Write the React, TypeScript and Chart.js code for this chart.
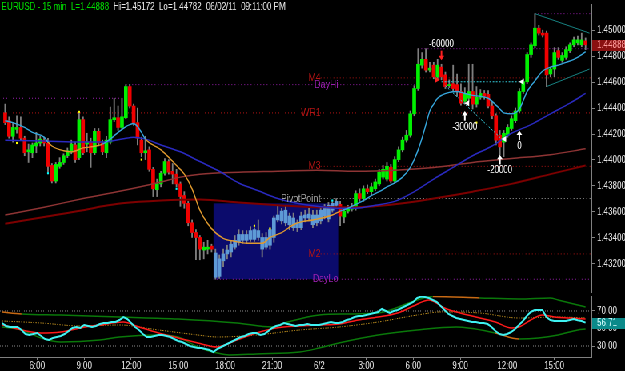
import React, { useEffect, useRef } from 'react';
import { Chart, registerables } from 'chart.js';

Chart.register(...registerables);

const FONT = '"Liberation Sans", Arial, sans-serif';
const FULL_W = 781;
const SCALE_X = 625 / FULL_W;
const MAIN_H = 296;
const OSC_H = 75;
const AXIS_W = 42;
const X_MIN = -0.5;
const X_MAX = 150.5;
const P_MIN = 1.429825;
const P_MAX = 1.452025;
const O_MIN = 17.43;
const O_MAX = 87.14;

// ---- candles (15 min bars, 3:45 6/1 -> 17:00 6/2) ----
const openP = [1.44363,1.44303,1.44183,1.44236,1.44251,1.44168,1.44063,1.44056,1.44108,1.44131,1.44153,1.44131,1.43958,1.43838,1.43951,1.43981,1.44033,1.44063,1.44116,1.44018,1.44311,1.44123,1.44138,1.44056,1.44221,1.44131,1.44056,1.44138,1.44311,1.44326,1.44251,1.44326,1.44566,1.44416,1.44288,1.44153,1.44056,1.44078,1.43928,1.43771,1.43816,1.43898,1.43988,1.43913,1.43891,1.43816,1.43726,1.43666,1.43516,1.43441,1.43403,1.43306,1.43313,1.43336,1.43283,1.43103,1.43223,1.43276,1.43291,1.43328,1.43366,1.43381,1.43426,1.43388,1.43388,1.43456,1.43403,1.43328,1.43343,1.43403,1.43538,1.43531,1.43613,1.43568,1.43553,1.43478,1.43478,1.43553,1.43553,1.43576,1.43516,1.43531,1.43568,1.43546,1.43613,1.43651,1.43658,1.43561,1.43606,1.43621,1.43636,1.43741,1.43703,1.43778,1.43756,1.43778,1.43816,1.43868,1.43853,1.43943,1.43838,1.44003,1.44078,1.44153,1.44191,1.44356,1.44551,1.44731,1.44776,1.44693,1.44731,1.44641,1.44716,1.44656,1.44573,1.44588,1.44581,1.44528,1.44453,1.44476,1.44528,1.44431,1.44483,1.44513,1.44506,1.44416,1.44341,1.44191,1.44138,1.44191,1.44243,1.44303,1.44378,1.44528,1.44603,1.44813,1.44881,1.45016,1.44978,1.44978,1.44663,1.44701,1.44843,1.44768,1.44791,1.44843,1.44888,1.44903,1.44888,1.44918];
const highP = [1.44431,1.44333,1.44288,1.44341,1.44333,1.44183,1.44123,1.44131,1.44213,1.44183,1.44176,1.44168,1.43973,1.43981,1.44018,1.44048,1.44093,1.44153,1.44138,1.44363,1.44333,1.44206,1.44168,1.44243,1.44243,1.44153,1.44183,1.44408,1.44476,1.44416,1.44476,1.44581,1.44581,1.44431,1.44401,1.44176,1.44183,1.44101,1.43943,1.43853,1.43913,1.44011,1.44003,1.43973,1.43928,1.43831,1.43756,1.43681,1.43538,1.43463,1.43418,1.43366,1.43381,1.43351,1.43313,1.43268,1.43313,1.43343,1.43381,1.43418,1.43463,1.43456,1.43456,1.43486,1.43478,1.43538,1.43433,1.43441,1.43478,1.43568,1.43651,1.43628,1.43643,1.43591,1.43591,1.43538,1.43598,1.43613,1.43628,1.43613,1.43613,1.43643,1.43658,1.43673,1.43688,1.43703,1.43681,1.43628,1.43651,1.43666,1.43763,1.43778,1.43801,1.43808,1.43823,1.43853,1.43928,1.43958,1.43981,1.43966,1.44026,1.44101,1.44176,1.44228,1.44378,1.44573,1.44858,1.44828,1.44858,1.44753,1.44753,1.44776,1.44738,1.44678,1.44618,1.44731,1.44663,1.44588,1.44558,1.44738,1.44738,1.44566,1.44543,1.44536,1.44536,1.44446,1.44356,1.44228,1.44228,1.44273,1.44341,1.44401,1.44551,1.44626,1.44828,1.44903,1.45128,1.45038,1.45001,1.44993,1.44716,1.44866,1.44866,1.44828,1.44873,1.44903,1.44948,1.44956,1.44978,1.44941];
const lowP = [1.44273,1.44168,1.44138,1.44206,1.44153,1.44033,1.43981,1.44018,1.44056,1.44108,1.44108,1.43906,1.43823,1.43823,1.43936,1.43966,1.44018,1.44048,1.43981,1.44003,1.44041,1.44063,1.43943,1.44041,1.44108,1.44041,1.44018,1.44123,1.44296,1.44228,1.44236,1.44318,1.44401,1.44266,1.44116,1.44026,1.44003,1.43913,1.43718,1.43718,1.43793,1.43883,1.43891,1.43816,1.43793,1.43643,1.43628,1.43493,1.43403,1.43231,1.43231,1.43238,1.43276,1.43291,1.43081,1.43088,1.43178,1.43238,1.43253,1.43313,1.43343,1.43358,1.43358,1.43373,1.43373,1.43381,1.43253,1.43313,1.43313,1.43366,1.43523,1.43508,1.43493,1.43463,1.43456,1.43448,1.43463,1.43523,1.43531,1.43478,1.43493,1.43508,1.43546,1.43523,1.43598,1.43636,1.43493,1.43516,1.43591,1.43606,1.43613,1.43681,1.43681,1.43741,1.43733,1.43763,1.43801,1.43853,1.43838,1.43823,1.43823,1.43988,1.44063,1.44138,1.44176,1.44341,1.44536,1.44708,1.44678,1.44678,1.44626,1.44626,1.44618,1.44551,1.44558,1.44528,1.44491,1.44423,1.44431,1.44453,1.44393,1.44408,1.44468,1.44468,1.44401,1.44318,1.44116,1.44041,1.44026,1.44176,1.44228,1.44288,1.44363,1.44513,1.44588,1.44791,1.44866,1.44963,1.44948,1.44566,1.44641,1.44641,1.44776,1.44753,1.44776,1.44828,1.44873,1.44888,1.44873,1.44851];
const closeP = [1.44288,1.44183,1.44251,1.44251,1.44168,1.44056,1.44078,1.44116,1.44131,1.44161,1.44131,1.43951,1.43838,1.43966,1.43981,1.44033,1.44071,1.44123,1.44003,1.44311,1.44056,1.44138,1.44056,1.44221,1.44131,1.44063,1.44153,1.44311,1.44326,1.44251,1.44333,1.44566,1.44416,1.44288,1.44168,1.44056,1.44071,1.43928,1.43778,1.43816,1.43898,1.43988,1.43906,1.43891,1.43816,1.43718,1.43666,1.43516,1.43441,1.43403,1.43313,1.43328,1.43328,1.43313,1.43096,1.43238,1.43276,1.43306,1.43351,1.43381,1.43426,1.43426,1.43381,1.43456,1.43463,1.43403,1.43313,1.43403,1.43463,1.43553,1.43576,1.43606,1.43516,1.43501,1.43478,1.43516,1.43568,1.43576,1.43583,1.43501,1.43576,1.43613,1.43628,1.43651,1.43666,1.43681,1.43568,1.43606,1.43628,1.43643,1.43741,1.43703,1.43778,1.43756,1.43793,1.43831,1.43906,1.43928,1.43951,1.43838,1.44003,1.44078,1.44153,1.44191,1.44356,1.44551,1.44738,1.44776,1.44693,1.44708,1.44641,1.44731,1.44641,1.44566,1.44581,1.44551,1.44528,1.44438,1.44513,1.44528,1.44431,1.44483,1.44513,1.44491,1.44416,1.44341,1.44153,1.44101,1.44206,1.44251,1.44318,1.44378,1.44528,1.44603,1.44813,1.44888,1.45016,1.44978,1.44963,1.44656,1.44701,1.44828,1.44791,1.44806,1.44851,1.44888,1.44926,1.44926,1.44926,1.44888];

const priceTicks = [1.432, 1.434, 1.436, 1.438, 1.44, 1.442, 1.444, 1.446, 1.448, 1.45];
const tickBars = [9, 21, 33, 45, 57, 69, 81, 93, 105, 117, 129, 141];
const tickLabels = ['6:00', '9:00', '12:00', '15:00', '18:00', '21:00', '6/2', '3:00', '6:00', '9:00', '12:00', '15:00'];

// ---- moving averages ----
const fastBars = [0,2,5,7,10,11,12,15,17,20,22,25,27,29,31,32,33,34,35,36,40,44,46,48,50,53,56,59,62,66,68,71,74,76,79,84,86,88,90,92,94,96,98,100,102,104,105,106,107,108,109,110,111,112,114,116,118,120,122,124,126,127,128,130,132,134,136,138,140,142,144,146,148,149];
const fastVals = [1.44303,1.44288,1.44251,1.44213,1.44176,1.44138,1.44108,1.44071,1.44063,1.44093,1.44101,1.44123,1.44161,1.44213,1.44258,1.44273,1.44281,1.44258,1.44213,1.44161,1.44078,1.43958,1.43891,1.43778,1.43613,1.43471,1.43396,1.43373,1.43358,1.43358,1.43403,1.43441,1.43501,1.43523,1.43538,1.43576,1.43606,1.43628,1.43658,1.43688,1.43726,1.43756,1.43793,1.43823,1.43868,1.43943,1.44003,1.44078,1.44168,1.44273,1.44378,1.44431,1.44476,1.44498,1.44521,1.44528,1.44513,1.44498,1.44491,1.44476,1.44423,1.44393,1.44363,1.44356,1.44393,1.44528,1.44611,1.44686,1.44716,1.44731,1.44753,1.44776,1.44813,1.44836];
const fastOrangeZones = [[11, 25], [36, 86]];
const navyBars = [0,10,20,25,30,33,36,40,45,50,55,60,65,70,75,80,85,90,95,100,105,110,115,120,125,130,135,140,145,149];
const navyVals = [1.44153,1.44146,1.44138,1.44138,1.44161,1.44176,1.44161,1.44116,1.44063,1.43988,1.43913,1.43823,1.43763,1.43703,1.43666,1.43643,1.43628,1.43628,1.43651,1.43681,1.43756,1.43853,1.43943,1.44033,1.44108,1.44206,1.44273,1.44356,1.44438,1.44513];
const brownBars = [0,10,20,30,40,45,50,60,70,80,90,100,110,120,130,140,149];
const brownVals = [1.43576,1.43636,1.43703,1.43763,1.43831,1.43868,1.43891,1.43906,1.43913,1.43921,1.43913,1.43921,1.43943,1.43981,1.44011,1.44041,1.44086];
const darkRedBars = [0,10,20,25,30,40,50,60,70,80,90,100,110,120,130,140,149];
const darkRedVals = [1.43508,1.43561,1.43613,1.43643,1.43666,1.43688,1.43696,1.43673,1.43651,1.43636,1.43636,1.43658,1.43703,1.43756,1.43816,1.43891,1.43958];

// ---- levels & annotations ----
const boxBars = [53.5, 85.5];
const boxPrices = [1.43666, 1.43081];
const pivotNames = ['M4', 'DayHi', 'WR1', 'M3', 'PivotPoint', 'M2', 'DayLo'];
const pivotValues = [1.44633, 1.44581, 1.44363, 1.43951, 1.43703, 1.43276, 1.43081];
const pivotStarts = [81, 31, -0.5, 81, 81, 81, 53.5];
const pivotEnds = [150.5, 106, 150.5, 150.5, 150.5, 150.5, 150.5];
const pivotLabelBars = [81, 85.5, 81, 81, 81, 81, 85.5];
const pivotColors = ['#b41414', '#9b1fb0', '#b41414', '#b41414', '#a8a8a8', '#b41414', '#9b1fb0'];
const extraLevelValues = [1.44476, 1.44858, 1.45128];
const extraLevelStarts = [-0.5, 106, 136];
const extraLevelEnds = [31, 150.5, 150.5];
const wedgeUpperBars = [136, 150];
const wedgeUpperVals = [1.45128, 1.44978];
const wedgeLowerBars = [139, 150];
const wedgeLowerVals = [1.44566, 1.44701];
const tradeLineBars = [112, 132];
const tradeLineVals = [1.44603, 1.44603];
const tradeDiagBars = [113, 127.5];
const tradeDiagVals = [1.44573, 1.44161];
const tradeLabelText = ['-60000', '-30000', '-20000', '0'];
const tradeLabelBars = [112, 118, 127, 132];
const tradeLabelPrices = [1.44896, 1.44251, 1.43921, 1.44108];
const upArrowBars = [118, 127, 132];
const upArrowTips = [1.44378, 1.44041, 1.44228];
const upArrowTails = [1.44303, 1.43966, 1.44153];
const downArrowBars = [112];
const downArrowTails = [1.44843];
const downArrowTips = [1.44768];
const whiteMarkBars = [132.5, 118.5, 128];
const whiteMarkPrices = [1.44603, 1.44438, 1.44161];
const redMarkBars = [111];
const redMarkPrices = [1.44618];
const yellowDotBars = [3, 19, 35, 64, 68, 121];
const yellowDotPrices = [1.44131, 1.44371, 1.44003, 1.43493, 1.43471, 1.44288];
const cyanDotBars = [11, 44, 84];
const cyanDotPrices = [1.43898, 1.43778, 1.43688];

// ---- oscillator ----
const oscMain = [56.3,52.9,51.7,51.7,51.7,48.3,43.7,42.6,43.7,44.9,
  41.4,38.0,36.9,39.1,40.3,41.4,43.7,47.1,50.6,51.7,
  50.6,54.0,52.9,51.7,52.9,55.1,56.3,56.3,57.4,57.4,
  59.7,63.1,60.9,56.3,51.7,48.3,43.7,40.3,40.3,41.4,
  42.6,42.6,41.4,40.3,38.0,35.7,34.6,32.3,30.0,28.9,
  27.7,27.7,26.6,25.4,23.1,26.6,28.9,31.1,33.4,35.7,
  38.0,40.3,41.4,43.7,44.9,44.9,42.6,43.7,47.1,50.6,
  52.9,54.0,56.3,55.1,54.0,52.9,54.0,54.0,55.1,54.0,
  54.0,54.0,55.1,56.3,57.4,56.3,56.3,57.4,59.7,60.9,
  63.1,64.3,64.3,65.4,66.6,67.7,68.9,72.3,70.0,67.7,
  70.0,71.1,73.4,75.7,78.0,80.3,84.9,86.5,86.0,84.9,
  82.6,80.3,75.7,71.1,66.6,64.3,62.0,60.9,59.7,58.6,
  57.4,57.4,56.3,56.3,55.1,51.7,47.1,43.7,42.6,43.7,
  46.0,49.4,54.0,58.6,64.3,68.9,71.1,71.1,71.1,63.1,
  59.7,58.6,58.6,58.6,58.6,59.7,60.9,59.5,58.5,56.71];
const signalBars = [0,10,15,20,25,31,35,40,45,50,55,60,65,70,76,81,86,91,96,101,105,109,110,113,117,122,126,130,132,135,138,141,145,149];
const signalVals = [54.0,44.9,46.0,50.6,54.0,57.4,51.7,44.9,39.1,33.4,28.9,36.9,44.9,50.6,52.9,54.0,55.1,59.7,63.1,67.7,75.7,82.6,81.4,73.4,67.7,62.0,57.4,50.6,51.7,59.7,65.4,63.1,62.0,60.9];
const oscAvgBars = [0,10,20,30,40,50,55,65,76,86,96,106,112,122,132,142,149];
const oscAvgVals = [58.6,56.3,52.9,54.0,48.3,42.6,40.3,42.6,48.3,51.7,57.4,65.4,68.9,67.7,62.0,63.1,62.0];
const upperBandBars = [0,5,15,30,45,60,69,73,81,88,96,106,110,122,132,140,142,147,149];
const upperBandVals = [68.9,66.6,65.4,63.1,60.9,56.3,51.7,57.4,65.4,66.6,67.7,82.6,86.5,84.9,83.7,84.9,82.6,76.9,74.6];
const lowerBandBars = [0,5,10,15,25,30,40,45,50,55,58,65,76,81,86,96,106,116,126,132,137,142,147,149];
const lowerBandVals = [51.7,48.3,39.1,34.6,36.9,40.3,42.6,40.3,28.9,22.0,19.7,20.9,23.1,27.7,33.4,42.6,48.3,51.7,44.9,38.0,39.1,42.6,48.3,49.4];
const upperOrangeZones = [[0, 5], [110, 122]];
const lowerOrangeZones = [[126, 132]];
const oscTicks = [30, 50, 70];
const oscLevels = [30, 70];

const titleGreen = 'EURUSD - 15 min  L=1.44888';
const titleWhite = '  Hi=1.45172  Lo=1.44782  06/02/11  09:11:00 PM';

const pts = (xs: number[], ys: number[]) => xs.map((x, i) => ({ x, y: ys[i] }));
const inZones = (v: number, zones: number[][]) => zones.some(([a, b]) => v >= a && v < b);
const line = (data: any[], color: string, width: number, extra: any = {}) => ({
  type: 'line', data, borderColor: color, borderWidth: width, pointRadius: 0, fill: false, ...extra,
});

function tri(ctx: CanvasRenderingContext2D, x: number, y: number, dir: number, color: string) {
  ctx.fillStyle = color;
  ctx.beginPath();
  ctx.moveTo(x + dir * -3, y);
  ctx.lineTo(x + dir * 3, y - 3);
  ctx.lineTo(x + dir * 3, y + 3);
  ctx.closePath();
  ctx.fill();
}

function arrowV(ctx: CanvasRenderingContext2D, x: number, yTail: number, yTip: number, color: string) {
  const dir = yTip < yTail ? 1 : -1;
  ctx.strokeStyle = color;
  ctx.fillStyle = color;
  ctx.lineWidth = 2;
  ctx.beginPath();
  ctx.moveTo(x, yTail);
  ctx.lineTo(x, yTip + dir * 3);
  ctx.stroke();
  ctx.beginPath();
  ctx.moveTo(x, yTip);
  ctx.lineTo(x - 3.5, yTip + dir * 4.5);
  ctx.lineTo(x + 3.5, yTip + dir * 4.5);
  ctx.closePath();
  ctx.fill();
}

const mainOverlay = {
  id: 'mainOverlay',
  beforeDatasetsDraw(chart: any) {
    const { ctx, scales: { x, y } } = chart;
    ctx.save();
    const x1 = x.getPixelForValue(boxBars[0]);
    const x2 = x.getPixelForValue(boxBars[1]);
    const y1 = y.getPixelForValue(boxPrices[0]);
    const y2 = y.getPixelForValue(boxPrices[1]);
    ctx.fillStyle = '#0b0b6c';
    ctx.fillRect(x1, y1, x2 - x1, y2 - y1);
    ctx.restore();
  },
  afterDatasetsDraw(chart: any) {
    const { ctx, scales: { x, y } } = chart;
    ctx.save();
    ctx.font = `11px ${FONT}`;
    ctx.textBaseline = 'middle';
    ctx.textAlign = 'right';
    pivotNames.forEach((n, k) => {
      ctx.fillStyle = pivotColors[k];
      ctx.fillText(n, x.getPixelForValue(pivotLabelBars[k]), y.getPixelForValue(pivotValues[k]));
    });
    upArrowBars.forEach((b, k) => arrowV(ctx, x.getPixelForValue(b), y.getPixelForValue(upArrowTails[k]), y.getPixelForValue(upArrowTips[k]), '#ffffff'));
    downArrowBars.forEach((b, k) => arrowV(ctx, x.getPixelForValue(b), y.getPixelForValue(downArrowTails[k]), y.getPixelForValue(downArrowTips[k]), '#ff2020'));
    whiteMarkBars.forEach((b, k) => tri(ctx, x.getPixelForValue(b), y.getPixelForValue(whiteMarkPrices[k]), 1, '#ffffff'));
    redMarkBars.forEach((b, k) => tri(ctx, x.getPixelForValue(b), y.getPixelForValue(redMarkPrices[k]), -1, '#ff2020'));
    ctx.font = `10px ${FONT}`;
    ctx.textAlign = 'center';
    ctx.fillStyle = '#ffffff';
    tradeLabelText.forEach((t, k) => ctx.fillText(t, x.getPixelForValue(tradeLabelBars[k]), y.getPixelForValue(tradeLabelPrices[k])));
    ctx.restore();
  },
  afterDraw(chart: any) {
    const { ctx, chartArea, scales: { y } } = chart;
    ctx.save();
    ctx.font = `10px ${FONT}`;
    ctx.textBaseline = 'alphabetic';
    ctx.textAlign = 'left';
    ctx.fillStyle = '#00e000';
    ctx.fillText(titleGreen, 2, 10);
    const w = ctx.measureText(titleGreen).width;
    ctx.fillStyle = '#e8e8e8';
    ctx.fillText(titleWhite, 2 + w, 10);
    const last = closeP[closeP.length - 1];
    const yv = y.getPixelForValue(last);
    ctx.fillStyle = '#8a1010';
    ctx.fillRect(chartArea.right + 1, Math.round(yv) - 5, chart.width - chartArea.right - 1, 11);
    ctx.fillStyle = '#ff9c9c';
    ctx.textBaseline = 'middle';
    ctx.fillText(last.toFixed(5), chartArea.right + 7, yv + 0.5);
    ctx.restore();
  },
};

const oscOverlay = {
  id: 'oscOverlay',
  afterDraw(chart: any) {
    const { ctx, chartArea, scales: { y } } = chart;
    const last = oscMain[oscMain.length - 1];
    const yv = y.getPixelForValue(last);
    ctx.save();
    ctx.fillStyle = '#0b8a8a';
    ctx.fillRect(chartArea.right + 1, Math.round(yv) - 5, chart.width - chartArea.right - 1, 11);
    ctx.fillStyle = '#d8ffff';
    ctx.font = `10px ${FONT}`;
    ctx.textBaseline = 'middle';
    ctx.textAlign = 'left';
    ctx.fillText(last.toFixed(2), chartArea.right + 7, yv + 0.5);
    ctx.restore();
  },
};

function yAxis(min: number, max: number, ticks: number[], digits: number) {
  return {
    type: 'linear', position: 'right', min, max,
    afterBuildTicks: (s: any) => { s.ticks = ticks.map((v) => ({ value: v })); },
    afterFit: (s: any) => { s.width = AXIS_W; s.paddingTop = 0; s.paddingBottom = 0; },
    ticks: { callback: (v: any) => Number(v).toFixed(digits), color: '#e6e6e6', font: { size: 10, family: FONT }, padding: 3, autoSkip: false },
    grid: { drawOnChartArea: false, drawTicks: true, tickLength: 4, color: '#808080' },
    border: { display: true, color: '#808080' },
  };
}

const baseOptions = {
  responsive: false, animation: false, events: [],
  layout: { padding: 0 },
  plugins: { legend: { display: false }, tooltip: { enabled: false }, title: { display: false } },
};

function mainConfig(): any {
  const idx = openP.map((_, i) => i);
  const inBox = (i: number) => i > boxBars[0] && i < boxBars[1];
  const bodyColors = idx.map((i) => (inBox(i) ? '#5e9ad6' : closeP[i] >= openP[i] ? '#00f000' : '#f00000'));
  const ds: any[] = [];
  pivotValues.forEach((v, k) => ds.push(line(pts([pivotStarts[k], pivotEnds[k]], [v, v]), pivotColors[k], 1, { borderDash: [1, 3], order: 30 })));
  extraLevelValues.forEach((v, k) => ds.push(line(pts([extraLevelStarts[k], extraLevelEnds[k]], [v, v]), '#9b1fb0', 1, { borderDash: [1, 3], order: 30 })));
  ds.push({ type: 'bar', data: idx.map((i) => ({ x: i, y: [lowP[i], highP[i]] })), backgroundColor: '#7e7e7e', barThickness: 1.2, grouped: false, order: 20 });
  ds.push({ type: 'bar', data: idx.map((i) => ({ x: i, y: [openP[i], closeP[i]] })), backgroundColor: bodyColors, barThickness: 4, minBarLength: 1, grouped: false, order: 19 });
  ds.push(line(pts(darkRedBars, darkRedVals), '#7d0000', 2, { order: 8, cubicInterpolationMode: 'monotone' }));
  ds.push(line(pts(brownBars, brownVals), '#8e3434', 1.5, { order: 7, cubicInterpolationMode: 'monotone' }));
  ds.push(line(pts(navyBars, navyVals), '#2a2ac0', 1.5, { order: 6, cubicInterpolationMode: 'monotone' }));
  ds.push(line(pts(fastBars, fastVals), '#36a6dc', 1.4, {
    order: 5, cubicInterpolationMode: 'monotone',
    segment: { borderColor: (c: any) => (inZones(c.p0.parsed.x, fastOrangeZones) ? '#e09a2e' : '#36a6dc') },
  }));
  ds.push(line(pts(wedgeUpperBars, wedgeUpperVals), '#178080', 1, { order: 4 }));
  ds.push(line(pts(wedgeLowerBars, wedgeLowerVals), '#178080', 1, { order: 4 }));
  ds.push(line(pts(tradeLineBars, tradeLineVals), '#35d0e0', 1, { order: 3, borderDash: [2, 2] }));
  ds.push(line(pts(tradeDiagBars, tradeDiagVals), '#35d0e0', 1, { order: 3, borderDash: [2, 2] }));
  ds.push(line(pts(yellowDotBars, yellowDotPrices), '#ffff00', 0, { order: 2, showLine: false, pointRadius: 1.5, pointStyle: 'rect', pointBackgroundColor: '#ffff00', pointBorderWidth: 0 }));
  ds.push(line(pts(cyanDotBars, cyanDotPrices), '#00ffff', 0, { order: 2, showLine: false, pointRadius: 1.5, pointStyle: 'rect', pointBackgroundColor: '#00ffff', pointBorderWidth: 0 }));
  return {
    type: 'line',
    data: { datasets: ds },
    options: {
      ...baseOptions,
      scales: {
        x: { type: 'linear', min: X_MIN, max: X_MAX, display: false, offset: false },
        y: yAxis(P_MIN, P_MAX, priceTicks, 5),
      },
    },
    plugins: [mainOverlay],
  };
}

function oscConfig(): any {
  const ds: any[] = [];
  oscLevels.forEach((v) => ds.push(line(pts([X_MIN, X_MAX], [v, v]), '#8c8c8c', 1, { borderDash: [1, 2], order: 9 })));
  ds.push(line(pts(upperBandBars, upperBandVals), '#0a780a', 1.5, {
    order: 8, cubicInterpolationMode: 'monotone',
    segment: { borderColor: (c: any) => (inZones(c.p0.parsed.x, upperOrangeZones) ? '#c86a14' : '#0a780a') },
  }));
  ds.push(line(pts(lowerBandBars, lowerBandVals), '#0a780a', 1.5, {
    order: 8, cubicInterpolationMode: 'monotone',
    segment: { borderColor: (c: any) => (inZones(c.p0.parsed.x, lowerOrangeZones) ? '#c86a14' : '#0a780a') },
  }));
  ds.push(line(pts(oscAvgBars, oscAvgVals), '#b88a1e', 1, { order: 7, borderDash: [1.5, 1.5], cubicInterpolationMode: 'monotone' }));
  ds.push(line(pts(signalBars, signalVals), '#ff1a1a', 1.5, { order: 6, cubicInterpolationMode: 'monotone' }));
  ds.push(line(oscMain.map((v, i) => ({ x: i, y: v })), '#3ff2f2', 2, { order: 5 }));
  return {
    type: 'line',
    data: { datasets: ds },
    options: {
      ...baseOptions,
      scales: {
        x: {
          type: 'linear', position: 'bottom', min: X_MIN, max: X_MAX, offset: false,
          afterBuildTicks: (s: any) => { s.ticks = tickBars.map((v) => ({ value: v })); },
          afterFit: (s: any) => { s.height = 14; s.paddingLeft = 0; s.paddingRight = 0; },
          ticks: {
            callback: (v: any) => { const k = tickBars.indexOf(Number(v)); return k >= 0 ? tickLabels[k] : ''; },
            color: '#e6e6e6', font: { size: 10, family: FONT }, padding: 0, autoSkip: false, maxRotation: 0,
          },
          grid: { drawOnChartArea: false, drawTicks: true, tickLength: 3, color: '#808080' },
          border: { display: true, color: '#808080' },
        },
        y: yAxis(O_MIN, O_MAX, oscTicks, 2),
      },
    },
    plugins: [oscOverlay],
  };
}

export default function App() {
  const mainRef = useRef<HTMLCanvasElement>(null);
  const oscRef = useRef<HTMLCanvasElement>(null);
  useEffect(() => {
    document.body.style.margin = '0';
    document.body.style.background = '#000';
    const main = new Chart(mainRef.current as HTMLCanvasElement, mainConfig());
    const osc = new Chart(oscRef.current as HTMLCanvasElement, oscConfig());
    return () => { main.destroy(); osc.destroy(); };
  }, []);
  return (
    <div style={{ width: 625, height: 371, overflow: 'hidden', background: '#000' }}>
      <div style={{ width: FULL_W, height: 371, transform: `scaleX(${SCALE_X})`, transformOrigin: '0 0' }}>
        <canvas ref={mainRef} width={FULL_W} height={MAIN_H} style={{ display: 'block' }} />
        <canvas ref={oscRef} width={FULL_W} height={OSC_H} style={{ display: 'block' }} />
      </div>
    </div>
  );
}
